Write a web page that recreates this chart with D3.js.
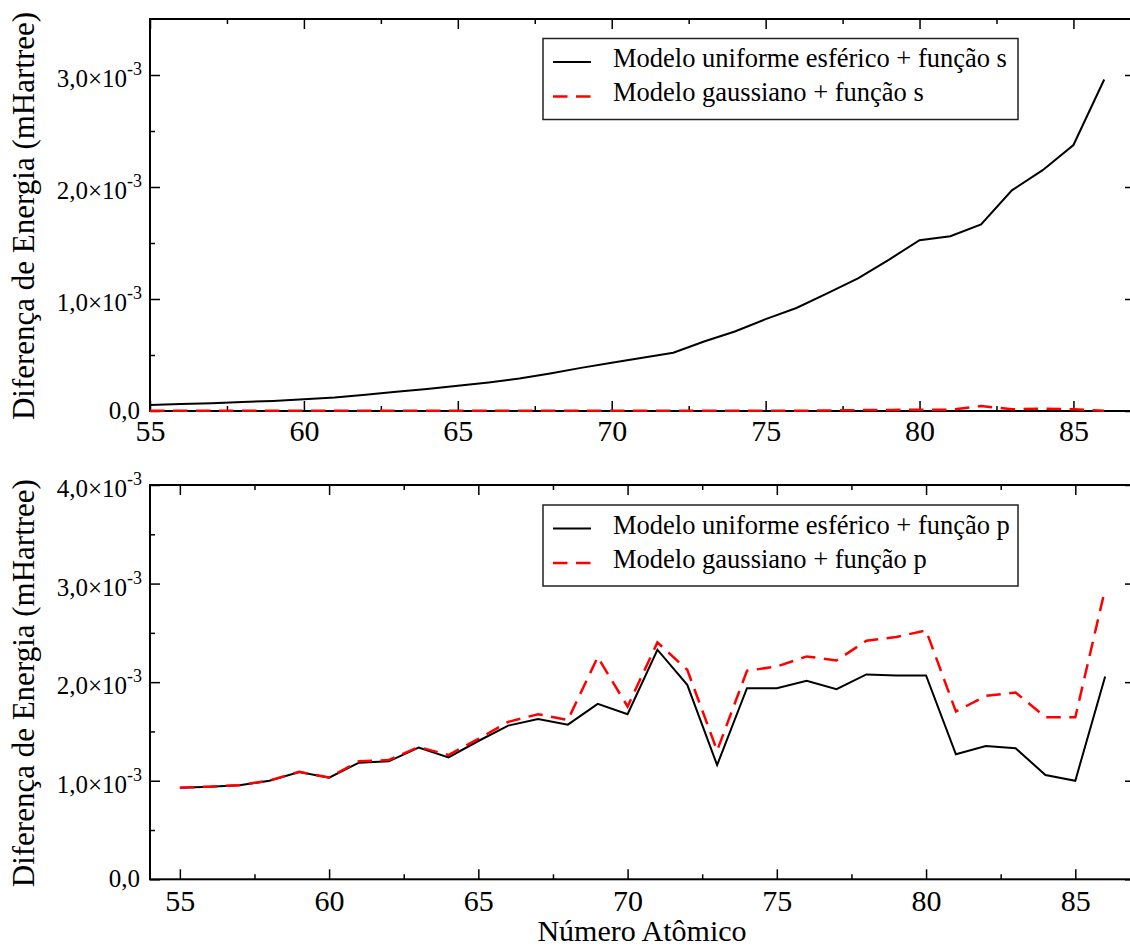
<!DOCTYPE html>
<html>
<head>
<meta charset="utf-8">
<script src="https://cdn.jsdelivr.net/npm/d3@7"></script>
<style>
  body { margin: 0; background: #fff; }
  svg text { font-family: "Liberation Serif", "Times New Roman", Times, "DejaVu Serif", "Noto Serif", serif !important; }
  .tick line { stroke: #000; stroke-width: 1.5; }
</style>
</head>
<body>
<div id="chart"></div>
<script>
// Atomic numbers (x categories)
var atomicNumbers = [55, 56, 57, 58, 59, 60, 61, 62, 63, 64, 65, 66, 67, 68, 69, 70,
                     71, 72, 73, 74, 75, 76, 77, 78, 79, 80, 81, 82, 83, 84, 85, 86];

// Energy differences, in units of 10^-3 mHartree
var uniformS = [0.054, 0.062, 0.070, 0.080, 0.090, 0.104, 0.120, 0.145, 0.172, 0.197, 0.226, 0.255, 0.290, 0.335, 0.385, 0.430,
                0.476, 0.520, 0.620, 0.710, 0.820, 0.920, 1.050, 1.185, 1.350, 1.525, 1.560, 1.665, 1.970, 2.150, 2.375, 2.960];
var gaussS = [0.002, 0.002, 0.002, 0.002, 0.002, 0.002, 0.002, 0.002, 0.002, 0.002, 0.002, 0.002, 0.002, 0.002, 0.002, 0.002,
              0.002, 0.002, 0.002, 0.002, 0.002, 0.002, 0.005, 0.008, 0.010, 0.012, 0.010, 0.045, 0.015, 0.020, 0.015, 0.003];
var uniformP = [0.929, 0.939, 0.953, 1.000, 1.088, 1.031, 1.183, 1.197, 1.336, 1.237, 1.403, 1.559, 1.627, 1.569, 1.780, 1.675,
                2.329, 1.973, 1.159, 1.939, 1.939, 2.014, 1.929, 2.078, 2.068, 2.068, 1.268, 1.353, 1.329, 1.058, 1.000, 2.058];
var gaussP = [0.930, 0.940, 0.955, 1.002, 1.090, 1.033, 1.197, 1.210, 1.342, 1.261, 1.424, 1.597, 1.675, 1.617, 2.254, 1.753,
              2.403, 2.125, 1.305, 2.115, 2.159, 2.261, 2.220, 2.420, 2.458, 2.525, 1.702, 1.861, 1.895, 1.644, 1.644, 2.946];

// Tick values and labels
var xMajorTicks = [55, 60, 65, 70, 75, 80, 85];
var xMinorTicks = [57.5, 62.5, 67.5, 72.5, 77.5, 82.5];
var topYTicks = [0, 1, 2, 3];
var topYMinor = [0.5, 1.5, 2.5];
var bottomYTicks = [0, 1, 2, 3, 4];
var bottomYMinor = [0.5, 1.5, 2.5, 3.5];

var legendTop = ["Modelo uniforme esférico + função s", "Modelo gaussiano + função s"];
var legendBottom = ["Modelo uniforme esférico + função p", "Modelo gaussiano + função p"];

var yTitle = "Diferença de Energia (mHartree)";
var xTitle = "Número Atômico";

var serif = "'Liberation Serif', 'Times New Roman', Times, 'DejaVu Serif', serif";

var svgWidth = 1130;
var svgHeight = 949;

var svg = d3.select("#chart")
    .append("svg")
    .attr("width", svgWidth)
    .attr("height", svgHeight);

svg.append("rect")
    .attr("width", svgWidth)
    .attr("height", svgHeight)
    .attr("fill", "#fff");

function drawPanel(p) {
    var x = d3.scaleLinear().domain(p.xDomain).range([150, 1135]);
    var y = d3.scaleLinear().domain(p.yDomain).range([p.bottom, p.top]);
    var g = svg.append("g");

    // ticks on all four sides, pointing inward
    function addAxis(axis, transform, values, size, labels, pad) {
        var a = g.append("g")
            .attr("transform", transform)
            .call(axis.tickValues(values).tickSizeInner(-size).tickSizeOuter(0)
                .tickPadding(pad || 3)
                .tickFormat(labels ? d3.format("d") : ""));
        a.attr("font-family", serif);
        a.select(".domain").remove();
        a.selectAll("text")
            .style("font-family", serif)
            .style("font-size", "30px")
            .attr("fill", "#000");
        return a;
    }
    addAxis(d3.axisBottom(x), "translate(0," + p.bottom + ")", xMajorTicks, 10, true, p.xPad);
    addAxis(d3.axisBottom(x), "translate(0," + p.bottom + ")", xMinorTicks, 5, false);
    addAxis(d3.axisTop(x), "translate(0," + p.top + ")", xMajorTicks, 10, false);
    addAxis(d3.axisTop(x), "translate(0," + p.top + ")", xMinorTicks, 5, false);
    addAxis(d3.axisLeft(y), "translate(150,0)", p.yTicks, 10, false);
    addAxis(d3.axisLeft(y), "translate(150,0)", p.yMinor, 5, false);
    addAxis(d3.axisRight(y), "translate(1135,0)", p.yTicks, 10, false);
    addAxis(d3.axisRight(y), "translate(1135,0)", p.yMinor, 5, false);

    // frame
    g.append("rect")
        .attr("x", 150)
        .attr("y", p.top)
        .attr("width", 1135 - 150)
        .attr("height", p.bottom - p.top)
        .attr("fill", "none")
        .attr("stroke", "#000")
        .attr("stroke-width", 2);

    // y tick labels like 3,0x10^-3
    var labels = g.selectAll(".ylab")
        .data(p.yTicks)
        .enter()
        .append("text")
        .attr("class", "ylab")
        .attr("text-anchor", "end")
        .attr("x", function(d) { return d === 0 ? 140 : 142; })
        .attr("y", function(d) { return y(d) + (d === 0 ? 8 : 12); })
        .style("font-family", serif)
        .style("font-size", "25px")
        .attr("fill", "#000");
    labels.append("tspan")
        .text(function(d) { return d === 0 ? "0,0" : d + ",0\u00d710"; });
    labels.filter(function(d) { return d !== 0; })
        .append("tspan")
        .attr("dy", -12)
        .style("font-size", "18px")
        .text("-3");

    // y title
    g.append("text")
        .attr("transform", "translate(34," + ((p.top + p.bottom) / 2 + 1) + ") rotate(-90)")
        .attr("text-anchor", "middle")
        .style("font-family", serif)
        .style("font-size", "31px")
        .attr("fill", "#000")
        .text(yTitle);

    var line = d3.line()
        .x(function(d, i) { return x(atomicNumbers[i]); })
        .y(function(d) { return y(d); });

    g.append("path")
        .datum(p.solid)
        .attr("d", line)
        .attr("fill", "none")
        .attr("stroke", "#000")
        .attr("stroke-width", 2);

    g.append("path")
        .datum(p.dashed)
        .attr("d", line)
        .attr("fill", "none")
        .attr("stroke", "#ff0000")
        .attr("stroke-width", 2.5)
        .attr("stroke-dasharray", "14.5,8.5");

    // legend
    var lg = g.append("g");
    lg.append("rect")
        .attr("x", 543)
        .attr("y", p.legendY)
        .attr("width", 475)
        .attr("height", 81)
        .attr("fill", "#fff")
        .attr("stroke", "#222")
        .attr("stroke-width", 1.5);
    p.legend.forEach(function(label, i) {
        var ly = p.legendY + 23.5 + i * 34.4;
        lg.append("line")
            .attr("x1", 553)
            .attr("x2", 591)
            .attr("y1", ly)
            .attr("y2", ly)
            .attr("stroke", i === 0 ? "#000" : "#ff0000")
            .attr("stroke-width", i === 0 ? 2 : 2.5)
            .attr("stroke-dasharray", i === 0 ? null : "14.5,8.5");
        lg.append("text")
            .attr("x", 613)
            .attr("y", ly + 5)
            .style("font-family", serif)
            .style("font-size", "26.5px")
            .attr("fill", "#000")
            .text(label);
    });
}

drawPanel({
    xDomain: [55, 87], yDomain: [0, 3.5],
    top: 19, bottom: 411, xPad: 9,
    yTicks: topYTicks, yMinor: topYMinor,
    solid: uniformS, dashed: gaussS,
    legend: legendTop, legendY: 38.5
});

drawPanel({
    xDomain: [54, 87], yDomain: [0, 4],
    top: 485, bottom: 879.3, xPad: 10,
    yTicks: bottomYTicks, yMinor: bottomYMinor,
    solid: uniformP, dashed: gaussP,
    legend: legendBottom, legendY: 505
});

// x-axis title
svg.append("text")
    .attr("x", 642)
    .attr("y", 941)
    .attr("text-anchor", "middle")
    .style("font-family", serif)
    .style("font-size", "30px")
    .attr("fill", "#000")
    .text(xTitle);
</script>
</body>
</html>
